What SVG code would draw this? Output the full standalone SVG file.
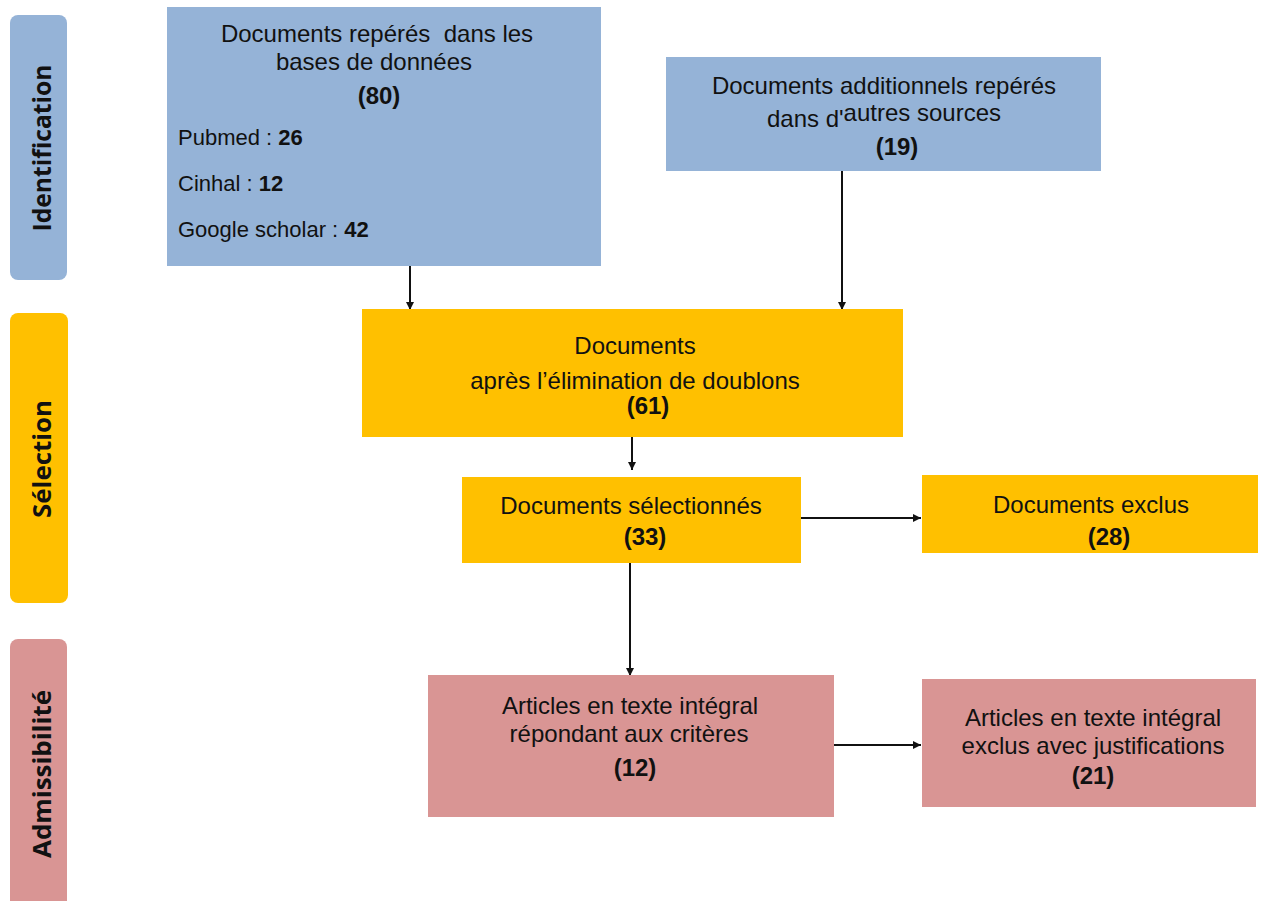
<svg xmlns="http://www.w3.org/2000/svg" width="1262" height="901" viewBox="0 0 1262 901">
<defs>
<marker id="ah" viewBox="0 0 10 10" refX="10" refY="5" markerWidth="8" markerHeight="8" orient="auto" markerUnits="userSpaceOnUse">
<path d="M0,0 L10,5 L0,10 z" fill="#111"/>
</marker>
<style>
.blue{fill:#95B3D7}
.yel{fill:#FFC000}
.pink{fill:#D99594}
.t{font-family:"Liberation Sans",Arial,sans-serif;font-size:24px;fill:#111;text-anchor:middle;white-space:pre}
.s{font-family:"Liberation Sans",Arial,sans-serif;font-size:22px;fill:#111}
.b{font-weight:bold}
.side{font-family:"Open Sans","DejaVu Sans",sans-serif;font-size:25px;font-weight:bold;fill:#111;text-anchor:middle}
.c{stroke:#111;stroke-width:2;fill:none;marker-end:url(#ah)}
</style>
</defs>
<rect width="1262" height="901" fill="#fff"/>

<g id="phase-identification">
<rect class="blue" x="10" y="15" width="57" height="265" rx="8"/>
<text class="side" transform="translate(51,148) rotate(-90)" textLength="167" lengthAdjust="spacingAndGlyphs">Identification</text>
</g>
<g id="phase-selection">
<rect class="yel" x="10" y="313" width="58" height="290" rx="8"/>
<text class="side" transform="translate(51,459) rotate(-90)" textLength="118" lengthAdjust="spacingAndGlyphs">Sélection</text>
</g>
<g id="phase-admissibilite">
<rect class="pink" x="10" y="639" width="57" height="270" rx="8"/>
<text class="side" transform="translate(51,774) rotate(-90)" textLength="168" lengthAdjust="spacingAndGlyphs">Admissibilité</text>
</g>

<g id="connectors">
<line class="c" x1="410" y1="265" x2="410" y2="310"/>
<line class="c" x1="842" y1="170" x2="842" y2="310"/>
<line class="c" x1="632" y1="436" x2="632" y2="470"/>
<line class="c" x1="798" y1="518" x2="921" y2="518"/>
<line class="c" x1="630" y1="562" x2="630" y2="676"/>
<line class="c" x1="834" y1="745" x2="921" y2="745"/>
</g>

<g id="node-bases">
<rect class="blue" x="167" y="7" width="434" height="259"/>
<text class="t" x="377" y="42" xml:space="preserve">Documents repérés  dans les</text>
<text class="t" x="374" y="70">bases de données</text>
<text class="t b" x="379" y="104">(80)</text>
<text class="s" x="178" y="145">Pubmed : <tspan class="b">26</tspan></text>
<text class="s" x="178" y="191">Cinhal : <tspan class="b">12</tspan></text>
<text class="s" x="178" y="237">Google scholar : <tspan class="b">42</tspan></text>
</g>

<g id="node-autres">
<rect class="blue" x="666" y="57" width="435" height="114"/>
<text class="t" x="884" y="94">Documents additionnels repérés</text>
<text class="t" x="884" y="127">dans d'<tspan dy="-6">autres sources</tspan></text>
<text class="t b" x="897" y="155">(19)</text>
</g>

<g id="node-doublons">
<rect class="yel" x="362" y="309" width="541" height="128"/>
<text class="t" x="635" y="354">Documents</text>
<text class="t" x="635" y="389">après l’élimination de doublons</text>
<text class="t b" x="648" y="414">(61)</text>
</g>

<g id="node-selectionnes">
<rect class="yel" x="462" y="477" width="339" height="86"/>
<text class="t" x="631" y="514">Documents sélectionnés</text>
<text class="t b" x="645" y="545">(33)</text>
</g>

<g id="node-exclus">
<rect class="yel" x="922" y="475" width="336" height="78"/>
<text class="t" x="1091" y="513">Documents exclus</text>
<text class="t b" x="1109" y="545">(28)</text>
</g>

<g id="node-integral">
<rect class="pink" x="428" y="675" width="406" height="142"/>
<text class="t" x="630" y="714">Articles en texte intégral</text>
<text class="t" x="629" y="742">répondant aux critères</text>
<text class="t b" x="635" y="776">(12)</text>
</g>

<g id="node-exclus-justif">
<rect class="pink" x="922" y="679" width="334" height="128"/>
<text class="t" x="1093" y="726">Articles en texte intégral</text>
<text class="t" x="1093" y="754">exclus avec justifications</text>
<text class="t b" x="1093" y="784">(21)</text>
</g>
</svg>
